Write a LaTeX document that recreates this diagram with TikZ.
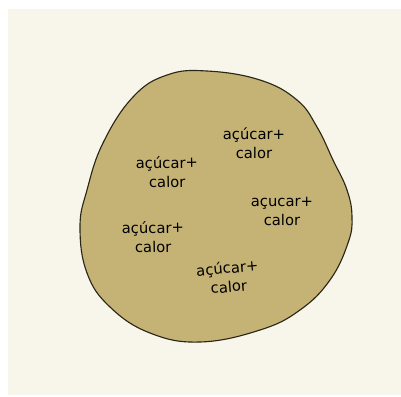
\documentclass[tikz,border=0pt]{standalone}
\usepackage{fontspec}
\setmainfont{DejaVu Sans}
\usepackage{tikz}
\definecolor{paper}{HTML}{F8F6EA}
\definecolor{dough}{HTML}{C5B376}
\definecolor{rim}{HTML}{2A2616}

\begin{document}
\begin{tikzpicture}[
x=0.025cm, y=-0.025cm,
blob/.style={draw=rim, fill=dough, line width=0.8pt},
label/.style={align=center, inner sep=1pt, text=black, font=\fontsize{10.5}{13.5}\selectfont}
]
\useasboundingbox (0,0) rectangle (401,396);
\fill[paper] (8,9) rectangle (401,395);

\draw[blob] plot[smooth cycle, tension=0.7] coordinates {
(133,97) (167,75) (207,71) (260,80) (297,100) (317,127) (333,160) (347,190)
(352,217) (348,243) (330,280) (300,310) (260,330) (200,342) (150,333)
(110,307) (87,273) (80,227) (87,190) (103,143)};

\node[label] (topright) at (254,143) {açúcar+\\calor};
\node[label, rotate=1] (upleft) at (167,172) {açúcar+\\calor};
\node[label] (right) at (282,211) {açucar+\\calor};
\node[label, rotate=1] (lowleft) at (153,237) {açúcar+\\calor};
\node[label, rotate=5] (bottom) at (228,277) {açúcar+\\calor};
\end{tikzpicture}
\end{document}
